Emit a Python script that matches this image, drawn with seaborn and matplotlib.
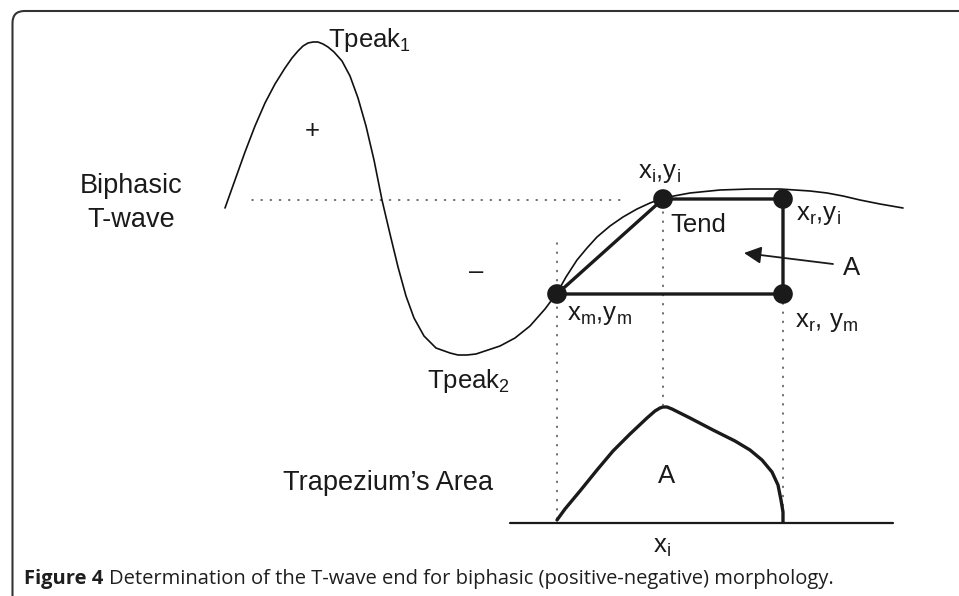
import matplotlib
matplotlib.use("Agg")
import matplotlib.pyplot as plt
from matplotlib.patches import FancyBboxPatch
import seaborn as sns

sns.set_theme(style="white")
plt.rcParams['font.family'] = ['Liberation Sans', 'DejaVu Sans']
plt.rcParams['mathtext.fontset'] = 'custom'
plt.rcParams['mathtext.rm'] = 'Liberation Sans'
plt.rcParams['mathtext.default'] = 'regular'

# ---- data (diagram coordinates, y grows downward) ----
wave_x = [225, 235, 245, 255, 265, 275, 285, 292, 298, 303, 308, 313, 318, 323,
          328, 334, 342, 350, 358, 366, 374, 382, 390, 398, 406, 414, 424, 436,
          450, 458, 467, 476, 485, 500, 515, 530, 545, 557, 566, 577, 587, 597,
          610, 623, 637, 650, 663, 690, 720, 750, 780, 810, 827, 843, 860, 880,
          903]
wave_y = [208, 180, 152, 126, 103, 84, 68, 58, 51, 46, 43, 42, 42, 44,
          47, 52, 61, 76, 98, 126, 160, 200, 234, 267, 296, 318, 336, 348,
          353, 355, 355, 354, 351, 346, 338, 326, 309, 293, 277, 260, 248, 237,
          226, 217, 209, 203, 198, 193, 190, 189, 189, 191, 193, 196, 200, 204,
          208]

# trapezium corners: (xm,ym) -> (xi,yi) -> (xr,yi) -> (xr,ym) -> back
trap_x = [557, 663, 783, 783, 557]
trap_y = [294, 199, 199, 294, 294]
pts_x = [557, 663, 783, 783]
pts_y = [294, 199, 199, 294]

# trapezium's area curve
area_x = [557, 565, 580, 597, 613, 630, 647, 655, 660, 663, 667, 672, 690, 713,
          735, 750, 762, 772, 778, 781, 783, 783]
area_y = [520, 509, 491, 470, 451, 434, 418, 411, 408, 407, 407, 409, 418, 430,
          441, 450, 460, 472, 485, 500, 512, 522]

axis_x = [510, 893]
axis_y = [523, 523]

# dotted guides
hdot_x = [252, 625]
hdot_y = [200, 200]
vdots = {557: (243, 520), 663: (212, 405), 783: (303, 520)}

fig = plt.figure(figsize=(9.59, 5.96), dpi=100)
ax = fig.add_axes([0, 0, 1, 1])
ax.set_xlim(0, 959)
ax.set_ylim(596, 0)
ax.axis('off')

# frame
frame = FancyBboxPatch((12.5, 11), 1000, 700, boxstyle="round,pad=0,rounding_size=12",
                       fill=False, ec='#333333', lw=1.5, clip_on=True)
ax.add_patch(frame)

dot_style = dict(color='#444444', lw=1.1, dashes=(0.7, 5.3), dash_capstyle='round')
ax.plot(hdot_x, hdot_y, **dot_style)
for xv, (y0, y1) in vdots.items():
    ax.plot([xv, xv], [y0, y1], **dot_style)

sns.lineplot(x=wave_x, y=wave_y, sort=False, estimator=None, ax=ax,
             color='#111111', lw=1.2)
sns.lineplot(x=trap_x, y=trap_y, sort=False, estimator=None, ax=ax,
             color='#1a1a1a', lw=2.4)
sns.lineplot(x=area_x, y=area_y, sort=False, estimator=None, ax=ax,
             color='#1a1a1a', lw=2.4)
sns.lineplot(x=axis_x, y=axis_y, sort=False, estimator=None, ax=ax,
             color='#1a1a1a', lw=1.6)
sns.scatterplot(x=pts_x, y=pts_y, ax=ax, color='#1a1a1a', s=200,
                edgecolor='none', zorder=5)

# arrow to A
ax.annotate('', xy=(744, 253), xytext=(833, 264),
            arrowprops=dict(arrowstyle='-|>', mutation_scale=26, lw=1.3,
                            color='#1a1a1a', shrinkA=0, shrinkB=0))

tc = '#1a1a1a'
fs = 18.5
ax.text(328, 47, 'Tpeak$_1$', fontsize=fs, color=tc, ha='left', va='baseline')
ax.text(427, 388, 'Tpeak$_2$', fontsize=fs, color=tc, ha='left', va='baseline')
ax.text(312, 131, '+', fontsize=fs, color=tc, ha='center', va='center')
ax.text(476, 272, '\u2013', fontsize=fs, color=tc, ha='center', va='center')
ax.text(131, 193, 'Biphasic', fontsize=19.5, color=tc, ha='center', va='baseline')
ax.text(131, 227, 'T-wave', fontsize=19.5, color=tc, ha='center', va='baseline')
ax.text(638, 178, 'x$_i$,y$_i$', fontsize=fs, color=tc, ha='left', va='baseline')
ax.text(670, 232, 'Tend', fontsize=fs, color=tc, ha='left', va='baseline')
ax.text(796, 220, 'x$_r$,y$_i$', fontsize=fs, color=tc, ha='left', va='baseline')
ax.text(843, 275, 'A', fontsize=fs, color=tc, ha='left', va='baseline')
ax.text(567, 320, 'x$_m$,y$_m$', fontsize=fs, color=tc, ha='left', va='baseline')
ax.text(795, 327, 'x$_r$, y$_m$', fontsize=fs, color=tc, ha='left', va='baseline')
ax.text(283, 490, 'Trapezium\u2019s Area', fontsize=19.5, color=tc, ha='left', va='baseline')
ax.text(667, 483, 'A', fontsize=fs, color=tc, ha='center', va='baseline')
ax.text(653, 553, 'x$_i$', fontsize=fs, color=tc, ha='left', va='baseline')

cap1 = ax.text(24, 589, 'Figure 4', fontsize=14.5, fontweight='bold',
               family=['Open Sans', 'DejaVu Sans'], color='#1e1e1e',
               ha='left', va='bottom')
ax.annotate('Determination of the T-wave end for biphasic (positive-negative) morphology.',
            xy=(1, 0), xycoords=cap1, xytext=(4, 0), textcoords='offset points',
            fontsize=14.5, family=['Open Sans', 'DejaVu Sans'], color='#1e1e1e',
            ha='left', va='bottom')

fig.savefig('out.png', dpi=100)
